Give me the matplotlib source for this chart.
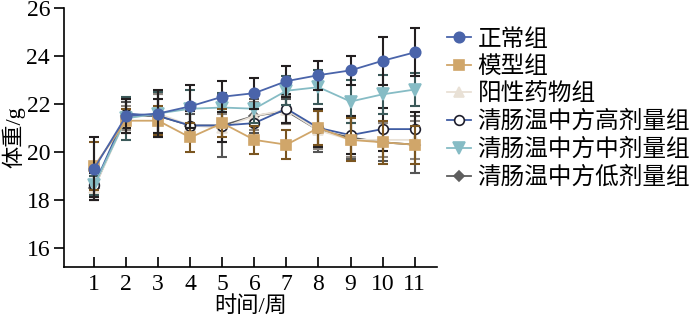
import matplotlib
matplotlib.use('Agg')
import matplotlib.pyplot as plt
import numpy as np

plt.rcParams['font.family'] = ['Liberation Serif', 'Noto Sans CJK SC']

weeks = np.arange(1, 12)
labels = ['正常组', '模型组', '阳性药物组', '清肠温中方高剂量组', '清肠温中方中剂量组', '清肠温中方低剂量组']

normal = [19.3, 21.5, 21.6, 21.9, 22.3, 22.45, 22.95, 23.2, 23.4, 23.8, 24.15]
normal_err = [1.3, 0.7, 1.0, 0.9, 0.65, 0.65, 0.65, 0.6, 0.6, 1.0, 1.0]
model = [19.4, 21.3, 21.3, 20.6, 21.2, 20.5, 20.3, 21.0, 20.5, 20.4, 20.3]
model_err = [1.0, 0.5, 0.6, 0.6, 0.6, 0.6, 0.6, 0.7, 0.9, 0.9, 0.8]
positive = [18.5, 21.4, 21.6, 21.1, 21.0, 21.5, 21.75, 20.9, 20.5, 20.5, 20.5]
positive_err = [0.5, 0.5, 0.8, 0.6, 0.6, 0.6, 0.6, 0.8, 0.7, 0.7, 0.8]
high = [18.6, 21.6, 21.5, 21.1, 21.1, 21.2, 21.8, 21.0, 20.7, 20.95, 20.95]
high_err = [0.5, 0.6, 0.7, 0.6, 0.7, 0.7, 0.6, 0.8, 0.8, 0.9, 0.7]
medium = [18.6, 21.4, 21.6, 21.8, 21.85, 21.8, 22.55, 22.7, 22.1, 22.4, 22.6]
medium_err = [0.4, 0.9, 0.9, 0.8, 0.6, 0.6, 0.6, 0.7, 0.9, 0.8, 0.7]
low = [18.5, 21.5, 21.5, 21.1, 21.1, 21.5, 21.7, 20.9, 20.6, 20.4, 20.3]
low_err = [0.5, 0.6, 0.9, 0.5, 1.3, 0.7, 0.5, 0.9, 0.9, 0.8, 1.2]

series = [
    (normal, normal_err, 'o', '#4a64aa', '#4a64aa', '#4a64aa', '#231f20', 7.5, 9),
    (model, model_err, 's', '#d0a66a', '#d0a66a', '#d0a66a', '#7a5520', 7, 8),
    (positive, positive_err, '^', '#e9e1d6', '#e9e1d6', '#e9e1d6', '#8c8680', 7, 5),
    (high, high_err, 'o', '#3f5ca3', 'white', '#1d1d2b', '#231f20', 7, 6),
    (medium, medium_err, 'v', '#86bcc5', '#86bcc5', '#86bcc5', '#3c5a5a', 8, 7),
    (low, low_err, 'D', '#5e5e5e', '#5e5e5e', '#5e5e5e', '#555555', 5.5, 4),
]

fig = plt.figure(figsize=(7, 3.22), dpi=100)
ax = fig.add_axes([0.0914, 0.171, 0.533, 0.804])

for i, (y, e, m, lc, fc, ec, errc, ms, z) in enumerate(series):
    ax.errorbar(weeks, y, yerr=e, fmt='none', ecolor=errc, elinewidth=1.5,
                capsize=3.5, capthick=1.5, zorder=z)
    ax.plot(weeks, y, color=lc, linewidth=1.3, marker=m, markersize=ms,
            markerfacecolor=fc, markeredgecolor=ec, markeredgewidth=1.2,
            label=labels[i], zorder=z + 0.5)

ax.set_xlim(0.06, 11.7)
ax.set_ylim(15.2, 26)
ax.set_xticks(weeks)
ax.set_yticks(np.arange(16, 27, 2))
ax.tick_params(axis='x', direction='in', length=7, width=1.2, labelsize=17, pad=5)
ax.tick_params(axis='y', direction='out', length=7, width=1.2, labelsize=17, pad=3)
ax.spines['right'].set_visible(False)
ax.spines['top'].set_visible(False)
ax.spines['left'].set_linewidth(1.2)
ax.spines['bottom'].set_linewidth(1.2)
ax.set_xlabel('时间/周', fontsize=16, labelpad=1)
ax.set_ylabel('体重/g', fontsize=16, labelpad=1)

ax.legend(loc='upper left', bbox_to_anchor=(0.625, 0.94), bbox_transform=fig.transFigure,
          frameon=False, fontsize=17, handlelength=1.0, handletextpad=0.3,
          labelspacing=0.23, borderaxespad=0)

fig.savefig('out.png', dpi=100)
